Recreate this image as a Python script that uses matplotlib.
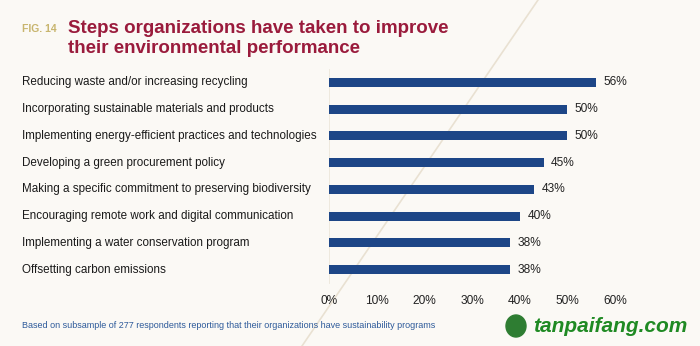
import matplotlib.pyplot as plt
from matplotlib.lines import Line2D
from matplotlib.patches import Ellipse
from matplotlib.transforms import blended_transform_factory

plt.rcParams["font.family"] = ["Liberation Sans", "DejaVu Sans"]

categories = [
    "Reducing waste and/or increasing recycling",
    "Incorporating sustainable materials and products",
    "Implementing energy-efficient practices and technologies",
    "Developing a green procurement policy",
    "Making a specific commitment to preserving biodiversity",
    "Encouraging remote work and digital communication",
    "Implementing a water conservation program",
    "Offsetting carbon emissions",
]
values = [56, 50, 50, 45, 43, 40, 38, 38]
xticks = [0, 10, 20, 30, 40, 50, 60]

BG = "#fbf9f5"
BAR = "#1d4687"
TITLE = "#9a1b3c"
W, H = 700, 346

fig = plt.figure(figsize=(7, 3.46), dpi=100, facecolor=BG)

# faint decorative diagonal in the background
fig.add_artist(Line2D([538 / W, 302 / W], [1, 0], transform=fig.transFigure,
                      color="#e9e1d2", linewidth=1.2, zorder=0))

ax = fig.add_axes([329 / W, 1 - 283 / H, (615 - 329) / W, (283 - 69) / H])
ax.set_facecolor("none")
ypos = list(range(len(categories)))
ax.barh(ypos, values, height=0.34, color=BAR, zorder=3)
ax.set_ylim(len(categories) - 0.5, -0.5)
ax.set_xlim(0, 60)
ax.set_xticks(xticks)
ax.set_xticklabels([f"{t}%" for t in xticks], fontsize=8.6, color="#222")
ax.tick_params(axis="x", length=0, pad=9)
ax.set_yticks([])
for s in ["top", "right", "bottom"]:
    ax.spines[s].set_visible(False)
ax.spines["left"].set_color("#ece6da")
ax.spines["left"].set_linewidth(0.6)

for y, v in zip(ypos, values):
    ax.text(v + 1.6, y, f"{v}%", va="center", ha="left", fontsize=8.6, color="#222")

# category labels, left aligned at the figure margin
lab_tr = blended_transform_factory(fig.transFigure, ax.transData)
for y, c in zip(ypos, categories):
    ax.text(22 / W, y, c, transform=lab_tr, va="center", ha="left",
            fontsize=8.35, color="#1a1a1a")

fig.text(22 / W, 1 - 29 / H, "FIG. 14", fontsize=7.5, fontweight="bold",
         color="#c8b56e", va="center", ha="left")
fig.text(68 / W, 1 - 38.5 / H, "Steps organizations have taken to improve\ntheir environmental performance",
         fontsize=13.5, fontweight="bold", color=TITLE, va="center", ha="left", linespacing=1.22)

fig.text(22 / W, 1 - 325 / H,
         "Based on subsample of 277 respondents reporting that their organizations have sustainability programs",
         fontsize=6.45, color="#2d5a9a", va="center", ha="left")

# watermark
fig.add_artist(Ellipse((516 / W, 1 - 326 / H), 20 / W, 22 / H, transform=fig.transFigure,
                       color="#2e7d32", zorder=5))
fig.text(533 / W, 1 - 326 / H, "tanpaifang.com", fontsize=15, fontweight="bold",
         fontstyle="italic", color="#1f8a23", va="center", ha="left")

fig.savefig("out.png", dpi=100, facecolor=BG)
